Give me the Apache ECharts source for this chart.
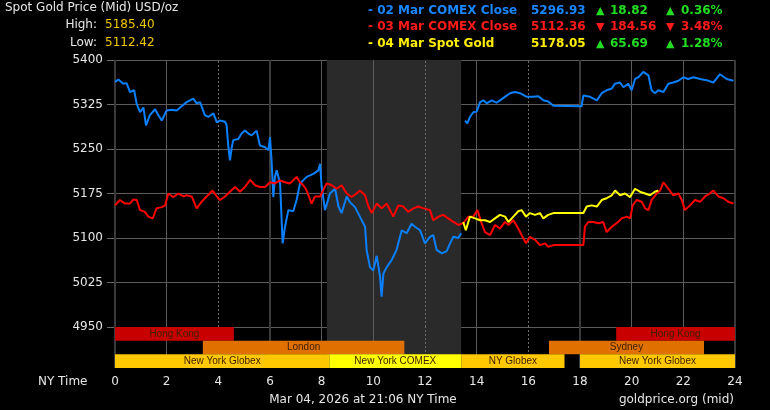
<!DOCTYPE html>
<html><head><meta charset="utf-8">
<script src="https://cdn.jsdelivr.net/npm/echarts@6/dist/echarts.min.js"></script>
<style>html,body{margin:0;padding:0;background:#000;}#c{width:770px;height:410px;}</style>
</head><body><div id="c"></div>
<script>
// ---------------- DATA ----------------
const yTickMin = 4950, yTickMax = 5400, yTickStep = 75;
const xTickMin = 0, xTickMax = 24, xTickStep = 2;

// 02 Mar COMEX Close (blue) – two pieces with a gap
const blueA = [[0.00,5363],[0.13,5367],[0.32,5360],[0.45,5361],[0.58,5346],[0.74,5349],[0.84,5326],[0.97,5312],[1.10,5320],[1.20,5290],[1.35,5307],[1.55,5317],[1.68,5307],[1.81,5298],[2.00,5315],[2.19,5316],[2.39,5315],[2.58,5322],[2.77,5329],[3.03,5335],[3.16,5327],[3.29,5329],[3.48,5307],[3.61,5304],[3.81,5310],[3.94,5295],[4.06,5298],[4.26,5296],[4.32,5290],[4.39,5253],[4.45,5231],[4.52,5253],[4.58,5265],[4.77,5267],[4.90,5276],[5.03,5281],[5.16,5276],[5.29,5273],[5.48,5281],[5.61,5256],[5.81,5253],[5.94,5248],[6.00,5270],[6.06,5231],[6.13,5169],[6.19,5203],[6.26,5214],[6.39,5192],[6.49,5091],[6.58,5119],[6.71,5147],[6.90,5145],[7.03,5164],[7.16,5192],[7.42,5203],[7.68,5208],[7.87,5214],[7.94,5225],[8.00,5186],[8.13,5147],[8.32,5175],[8.52,5183],[8.65,5153],[8.77,5142],[8.97,5170],[9.10,5160],[9.29,5152],[9.48,5136],[9.68,5119],[9.74,5080],[9.87,5051],[10.00,5045],[10.13,5070],[10.26,5035],[10.32,5001],[10.39,5040],[10.52,5051],[10.71,5063],[10.90,5080],[11.10,5113],[11.29,5108],[11.48,5124],[11.61,5119],[11.81,5113],[12.00,5091],[12.19,5102],[12.32,5105],[12.45,5080],[12.65,5074],[12.84,5078],[12.97,5091],[13.10,5102],[13.29,5100],[13.40,5108]];
const blueB = [[13.55,5298],[13.64,5293],[13.74,5304],[13.87,5312],[14.00,5313],[14.13,5329],[14.26,5332],[14.39,5327],[14.58,5332],[14.77,5328],[14.90,5332],[15.16,5340],[15.29,5344],[15.48,5346],[15.68,5344],[15.94,5338],[16.19,5338],[16.39,5339],[16.58,5332],[16.77,5330],[16.97,5323],[18.06,5322],[18.13,5340],[18.39,5338],[18.65,5332],[18.84,5344],[19.03,5349],[19.23,5352],[19.35,5360],[19.55,5362],[19.68,5354],[19.87,5360],[20.00,5349],[20.13,5368],[20.26,5371],[20.45,5380],[20.65,5374],[20.77,5349],[20.90,5344],[21.03,5349],[21.23,5346],[21.42,5360],[21.61,5362],[21.81,5365],[22.00,5371],[22.19,5368],[22.39,5371],[22.65,5368],[22.90,5366],[23.16,5362],[23.42,5376],[23.68,5368],[23.94,5365]];
// 03 Mar COMEX Close (red)
const red = [[0.00,5155],[0.19,5164],[0.39,5158],[0.58,5158],[0.71,5165],[0.84,5164],[0.97,5147],[1.16,5144],[1.29,5136],[1.46,5133],[1.61,5150],[1.81,5152],[1.94,5155],[2.06,5175],[2.26,5169],[2.45,5175],[2.65,5170],[2.77,5172],[2.97,5170],[3.16,5150],[3.35,5161],[3.55,5170],[3.78,5180],[3.94,5170],[4.06,5164],[4.26,5170],[4.45,5178],[4.65,5186],[4.84,5178],[5.03,5186],[5.23,5198],[5.42,5189],[5.61,5186],[5.81,5186],[6.00,5194],[6.19,5192],[6.39,5197],[6.58,5194],[6.77,5192],[7.03,5203],[7.16,5194],[7.29,5189],[7.42,5180],[7.61,5158],[7.74,5170],[7.94,5170],[8.19,5192],[8.39,5189],[8.58,5183],[8.77,5189],[8.97,5175],[9.16,5169],[9.35,5175],[9.48,5180],[9.68,5172],[9.81,5153],[9.94,5142],[10.13,5158],[10.32,5150],[10.52,5158],[10.77,5136],[10.97,5155],[11.16,5153],[11.35,5144],[11.55,5150],[11.74,5153],[11.94,5150],[12.19,5147],[12.32,5130],[12.52,5136],[12.71,5139],[12.90,5133],[13.10,5127],[13.29,5122],[13.48,5125],[13.68,5136],[13.87,5136],[14.03,5147],[14.19,5125],[14.32,5110],[14.52,5105],[14.71,5122],[14.90,5116],[15.10,5127],[15.23,5122],[15.42,5130],[15.61,5116],[15.81,5099],[15.91,5091],[16.06,5102],[16.26,5097],[16.45,5088],[16.65,5091],[16.77,5085],[16.97,5088],[18.13,5088],[18.19,5119],[18.32,5127],[18.52,5127],[18.71,5125],[18.90,5127],[19.03,5110],[19.23,5119],[19.42,5125],[19.61,5133],[19.81,5136],[19.94,5133],[20.04,5155],[20.19,5164],[20.39,5161],[20.52,5150],[20.65,5147],[20.77,5164],[20.97,5175],[21.10,5180],[21.23,5194],[21.42,5183],[21.61,5172],[21.81,5175],[21.94,5164],[22.06,5147],[22.26,5155],[22.45,5164],[22.65,5161],[22.84,5170],[23.03,5175],[23.16,5180],[23.36,5170],[23.55,5167],[23.74,5161],[23.94,5158]];
// 04 Mar Spot Gold (yellow)
const yellow = [[13.48,5127],[13.58,5113],[13.74,5136],[13.94,5133],[14.13,5130],[14.32,5130],[14.52,5127],[14.71,5133],[14.90,5139],[15.10,5136],[15.23,5127],[15.42,5136],[15.61,5145],[15.74,5147],[15.91,5136],[16.06,5142],[16.26,5139],[16.45,5142],[16.58,5133],[16.77,5139],[16.97,5142],[18.13,5142],[18.26,5153],[18.45,5155],[18.65,5153],[18.84,5164],[19.03,5167],[19.23,5172],[19.36,5180],[19.55,5172],[19.74,5175],[19.94,5169],[20.13,5183],[20.32,5178],[20.52,5175],[20.71,5172],[20.90,5178],[21.03,5180]];

// Trading sessions
const sessionLabels = ['Hong Kong','Hong Kong','London','Sydney','New York Globex','New York COMEX','NY Globex','New York Globex'];
const sessionStart  = [0, 19.4, 3.4, 16.8, 0, 8.3, 13.4, 18.0];
const sessionEnd    = [4.6, 24, 11.2, 22.8, 8.3, 13.4, 17.4, 24];
const sessionRow    = [2, 2, 1, 1, 0, 0, 0, 0];
const shadeHours = [8.2, 13.4];
const lightHours = [2, 8, 10, 14, 20, 22];
const darkHours = [0, 6, 18, 24];
const dottedHours = [4, 12, 16];

// Header
const legendNames = ['02 Mar COMEX Close','03 Mar COMEX Close','04 Mar Spot Gold'];
const legendValues = ['5296.93','5112.36','5178.05'];
const legendChanges = ['18.82','184.56','65.69'];
const legendPcts = ['0.36%','3.48%','1.28%'];
const legendUp = [true, false, true];
const highValue = '5185.40', lowValue = '5112.42';

// ---------------- STYLE ----------------
const FONT = '"DejaVu Sans", Verdana, sans-serif';
const seriesColors = ['#0a80ff','#ff0000','#ffff00'];
const legendColors = ['#1a86ff','#ff1a1a','#ffee00'];
const upColor = '#22dd22', downColor = '#ff1a1a';
const sessionColor = {'Hong Kong':'#c80000','London':'#e07000','Sydney':'#e07000','New York Globex':'#ffc800','NY Globex':'#ffc800','New York COMEX':'#ffff00'};

function vLines() {
  return [].concat(
    lightHours.map(h => ({xAxis: h, lineStyle: {color:'#5c5c5c', width:1, type:'solid'}})),
    dottedHours.map(h => ({xAxis: h, lineStyle: {color:'#6a6a6a', width:1, type:[2,2]}})),
    darkHours.map(h => ({xAxis: h, lineStyle: {color:'#3a3a3a', width:2, type:'solid'}}))
  );
}
function helper(idx) {
  return {
    type:'line', xAxisIndex: idx, yAxisIndex: idx, data: [], silent: true, z: 1,
    markArea: {silent:true, z:0, itemStyle:{color:'#2a2a2a'}, data:[[{xAxis: shadeHours[0]},{xAxis: shadeHours[1]}]]},
    markLine: {silent:true, z:1, symbol:'none', label:{show:false}, animation:false, data: vLines()}
  };
}

const texts = [];
function T(x, y, text, fill, opts) {
  opts = opts || {};
  texts.push({type:'text', x, y, silent:true, z: 100, style:{text, fill, font: (opts.bold?'bold ':'') + (opts.size||12) + 'px ' + FONT, textAlign: opts.align||'left', align: opts.align||'left', textVerticalAlign:'middle', verticalAlign:'middle'}});
}
T(5, 8, 'Spot Gold Price (Mid) USD/oz', '#e6e6e6');
T(97, 25, 'High:', '#e6e6e6', {align:'right'});
T(105, 25, highValue, '#f0c800');
T(97, 43, 'Low:', '#e6e6e6', {align:'right'});
T(105, 43, lowValue, '#f0c800');
const rowY = [11, 27, 44];
for (let i = 0; i < 3; i++) {
  const c = legendColors[i];
  const cc = legendUp[i] ? upColor : downColor;
  const arrow = legendUp[i] ? '▲' : '▼';
  T(368, rowY[i], '- ' + legendNames[i], c, {bold:true});
  T(531, rowY[i], legendValues[i], c, {bold:true});
  T(596, rowY[i], arrow, cc, {bold:true, size:11});
  T(610, rowY[i], legendChanges[i], cc, {bold:true});
  T(666, rowY[i], arrow, cc, {bold:true, size:11});
  T(681, rowY[i], legendPcts[i], cc, {bold:true});
}
T(38, 382, 'NY Time', '#e6e6e6');
T(363, 400, 'Mar 04, 2026 at 21:06 NY Time', '#e6e6e6', {align:'center'});
T(734, 400, 'goldprice.org (mid)', '#e6e6e6', {align:'right'});

const chart = echarts.init(document.getElementById('c'));
chart.setOption({
  backgroundColor:'#000',
  animation:false,
  grid:[
    {left:115, right:35, top:60, height:267},
    {left:115, right:35, top:327, height:41}
  ],
  xAxis:[
    {gridIndex:0, type:'value', min:xTickMin, max:xTickMax, interval:xTickStep, axisLabel:{show:false}, axisLine:{show:false}, axisTick:{show:false}, splitLine:{show:false}},
    {gridIndex:1, type:'value', min:xTickMin, max:xTickMax, interval:xTickStep, axisLabel:{color:'#e6e6e6', fontSize:12, fontFamily:FONT, margin:8}, axisLine:{show:false}, axisTick:{show:false}, splitLine:{show:false}}
  ],
  yAxis:[
    {gridIndex:0, type:'value', min:yTickMin, max:yTickMax, interval:yTickStep, axisLabel:{color:'#e6e6e6', fontSize:12, fontFamily:FONT, margin:12, formatter: v => String(v)}, axisTick:{show:true, length:8, lineStyle:{color:'#6a6a6a'}}, axisLine:{show:false}, splitLine:{show:true, lineStyle:{color:'#5c5c5c', width:1}}},
    {gridIndex:1, type:'category', data:['0','1','2'], show:false}
  ],
  graphic:{elements: texts},
  series:[
    helper(0),
    helper(1),
    {type:'line', name:legendNames[0], xAxisIndex:0, yAxisIndex:0, showSymbol:false, symbol:'none', z:3,
      data: blueA.concat([[13.47, null]], blueB), lineStyle:{color:seriesColors[0], width:2}, connectNulls:false},
    {type:'line', name:legendNames[1], xAxisIndex:0, yAxisIndex:0, showSymbol:false, symbol:'none', z:4,
      data: red, lineStyle:{color:seriesColors[1], width:2}},
    {type:'line', name:legendNames[2], xAxisIndex:0, yAxisIndex:0, showSymbol:false, symbol:'none', z:5,
      data: yellow, lineStyle:{color:seriesColors[2], width:2}},
    {type:'custom', xAxisIndex:1, yAxisIndex:1, z:5, silent:true,
      encode:{x:[0,1], y:2},
      data: sessionStart.map((s,i)=>[s, sessionEnd[i], sessionRow[i]]),
      renderItem: function(params, api){
        const row = api.value(2);
        const s = api.coord([api.value(0), row]);
        const e = api.coord([api.value(1), row]);
        const h = api.size([0, 1])[1];
        const label = sessionLabels[params.dataIndex];
        return {type:'group', children:[
          {type:'rect', shape:{x:s[0], y:s[1]-h/2, width:e[0]-s[0], height:h}, style:{fill:sessionColor[label]}},
          {type:'text', style:{text:label, x:(s[0]+e[0])/2, y:s[1], align:'center', verticalAlign:'middle', textAlign:'center', textVerticalAlign:'middle', fill:'#3a1e00', font:'10px "Liberation Sans", Arial, sans-serif'}}
        ]};
      }
    }
  ]
});
</script>
</body></html>
